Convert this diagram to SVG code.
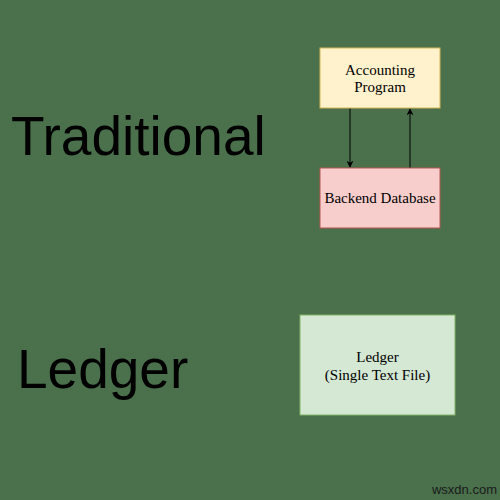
<svg xmlns="http://www.w3.org/2000/svg" width="500" height="500" viewBox="0 0 500 500">
<defs>
<style>
.lbl{font-family:"Liberation Serif","Times New Roman",serif;font-size:15px;fill:#000;text-anchor:middle}
.big{font-family:"Liberation Sans",Arial,sans-serif;font-size:55px;fill:#000}
.edge{stroke:#000;stroke-width:1;fill:none}
</style>
<marker id="ah" viewBox="0 0 10 10" refX="9" refY="5" markerWidth="7" markerHeight="7" orient="auto" markerUnits="userSpaceOnUse">
<path d="M0,0 L10,5 L0,10 L3,5 Z" fill="#000"/>
</marker>
</defs>
<rect width="500" height="500" fill="#4a704c"/>
<text class="big" x="11" y="155">Traditional</text>
<text class="big" x="17" y="388">Ledger</text>
<g id="connectors">
<line class="edge" x1="350" y1="108" x2="350" y2="167" marker-end="url(#ah)"/>
<line class="edge" x1="410" y1="168" x2="410" y2="109" marker-end="url(#ah)"/>
</g>
<g id="accounting">
<rect x="320" y="48" width="120" height="60" fill="#fff2cc" stroke="#d6b656"/>
<text class="lbl" x="380" y="75">Accounting</text>
<text class="lbl" x="380" y="92">Program</text>
</g>
<g id="backend">
<rect x="320" y="168" width="120" height="60" fill="#f8cecc" stroke="#b85450"/>
<text class="lbl" x="380" y="203">Backend Database</text>
</g>
<g id="ledger">
<rect x="300" y="315" width="155" height="100" fill="#d5e8d4" stroke="#82b366"/>
<text class="lbl" x="377.5" y="362">Ledger</text>
<text class="lbl" x="377.5" y="380">(Single Text File)</text>
</g>
<text x="497" y="494" text-anchor="end" font-family="Liberation Sans,Arial,sans-serif" font-size="13" fill="#1a1a1a">wsxdn.com</text>
</svg>
